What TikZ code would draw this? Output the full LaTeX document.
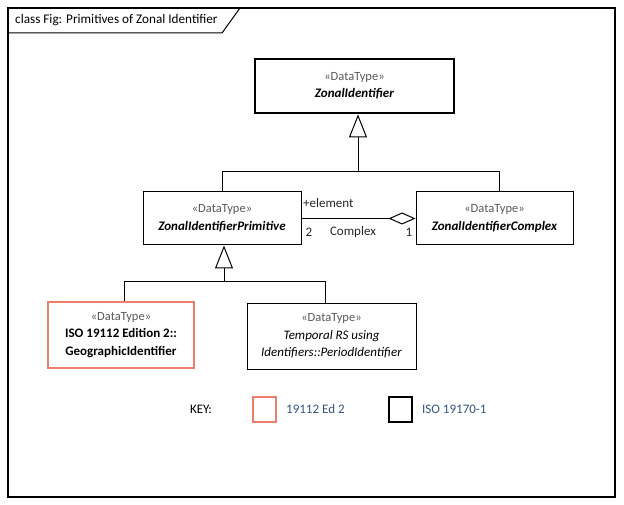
\documentclass[tikz,border=0pt]{standalone}
\usepackage{fontspec}
\setmainfont{Carlito}
\usetikzlibrary{arrows.meta}
\definecolor{edtwo}{RGB}{236,128,106}
\definecolor{stereo}{RGB}{90,90,90}
\definecolor{keyblue}{RGB}{52,84,130}
\tikzset{
  cls/.style={draw, line width=1pt, fill=white, align=center, inner sep=0pt,
    font=\fontsize{13}{17.5}\selectfont},
  thickcls/.style={cls, line width=2.8pt},
  edcls/.style={cls, draw=edtwo, line width=2.8pt},
  conn/.style={line width=1pt},
  gen/.style={conn, -{Triangle[open, width=18pt, length=23pt, line width=1pt]}},
  agg/.style={conn, -{Diamond[open, width=12pt, length=27pt, line width=1pt]}},
  lbl/.style={font=\fontsize{13}{15}\selectfont, text=black!85, inner sep=0pt},
  keybox/.style={minimum width=23pt, minimum height=25pt, inner sep=0pt, line width=2.8pt}
}
\newcommand{\stereotype}{{\color{stereo}\fontsize{12.5}{17.5}\selectfont«DataType»}}
\begin{document}
\begin{tikzpicture}[x=1pt, y=-1pt]
  \useasboundingbox (0,0) rectangle (624,505);
  % diagram frame with its title tab
  \draw[line width=1.2pt] (8,8) rectangle (615,497);
  \draw[line width=1pt] (8,33) -- (222,33) -- (240,8);
  \node[anchor=west, font=\fontsize{13.2}{15}\selectfont, inner sep=0pt] (title) at (15,20)
    {class Fig: Primitives of Zonal Identifier};

  % classes
  \node[thickcls, minimum width=199pt, minimum height=54pt] (zi) at (354.5,86)
    {\stereotype\\\textbf{\textit{ZonalIdentifier}}};
  \node[cls, minimum width=158pt, minimum height=53pt] (prim) at (222,218.5)
    {\stereotype\\\textbf{\textit{ZonalIdentifierPrimitive}}};
  \node[cls, minimum width=157pt, minimum height=53pt] (cplx) at (494.5,218.5)
    {\stereotype\\\textbf{\textit{ZonalIdentifierComplex}}};
  \node[edcls, minimum width=146pt, minimum height=66pt] (geo) at (121,335)
    {\stereotype\\\textbf{ISO 19112 Edition 2::}\\\textbf{GeographicIdentifier}};
  \node[cls, minimum width=169pt, minimum height=66pt] (temp) at (331.5,336)
    {\stereotype\\\textit{Temporal RS using}\\\textit{Identifiers::PeriodIdentifier}};

  % generalisations
  \coordinate (j1) at (358,172);
  \coordinate (j2) at (224,281);
  \draw[gen] (j1) -- (zi.south -| j1);
  \draw[conn] (prim.north) |- (j1);
  \draw[conn] ([xshift=4.5pt]cplx.north) |- (j1);
  \draw[gen] (j2) -- (prim.south -| j2);
  \draw[conn] ([xshift=3pt]geo.north) |- (j2);
  \draw[conn] ([xshift=-6.5pt]temp.north) |- (j2);

  % aggregation
  \draw[agg] (prim.east) -- (cplx.west);
  \node[lbl, anchor=west] (role) at (303,203) {+element};
  \node[lbl] (m2) at (309,232) {2};
  \node[lbl] (aname) at (353,232) {Complex};
  \node[lbl] (m1) at (409,232) {1};

  % key
  \node[lbl, text=black] (key) at (201,409) {KEY:};
  \node[keybox, draw=edtwo] (k1) at (264.5,409.5) {};
  \node[lbl, text=keyblue, anchor=west] (k1t) at (286,409) {19112 Ed 2};
  \node[keybox, draw=black] (k2) at (400.5,409.5) {};
  \node[lbl, text=keyblue, anchor=west] (k2t) at (422,409) {ISO 19170-1};
\end{tikzpicture}
\end{document}
